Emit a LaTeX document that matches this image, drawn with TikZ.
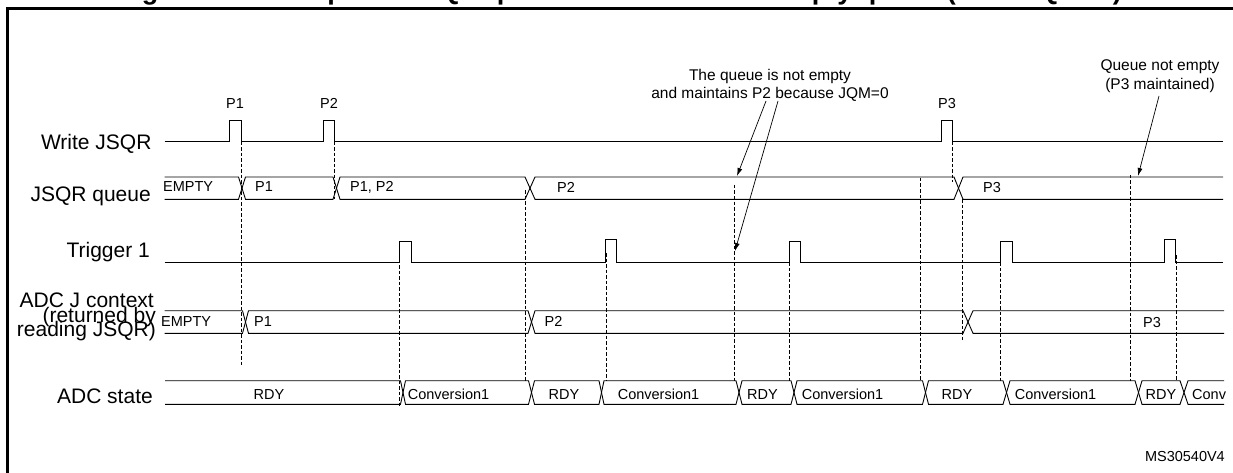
\documentclass[tikz,border=0pt]{standalone}
\usepackage{fontspec}
\setmainfont{Liberation Sans}
\usetikzlibrary{arrows.meta}
\tikzset{
  sig/.style={line width=0.9pt, line join=miter},
  vdash/.style={line width=0.7pt, dash pattern=on 3.5pt off 2pt},
  frame/.style={line width=2.6pt},
  lab/.style={font=\fontsize{21}{21}\selectfont, inner sep=0pt, anchor=base east},
  small/.style={font=\fontsize{14.5}{14.5}\selectfont, inner sep=0pt, anchor=base west},
  smallc/.style={font=\fontsize{14.5}{14.5}\selectfont, inner sep=0pt, anchor=base},
  note/.style={inner sep=0pt, align=center, anchor=north},
  arr/.style={line width=0.7pt, -{Latex[length=8pt,width=5pt]}},
}
\begin{document}
\begin{tikzpicture}[x=1pt,y=-1pt]
\useasboundingbox (0,0) rectangle (1233,473);

% clipped title and frame
\node[inner sep=0pt, anchor=base east, font=\bfseries\fontsize{27}{27}\selectfont] (title) at (1122,0)
  {Figure 71. Example of JSQR queue of context with empty queue (case JQM=0)};
\draw[frame] (7.3,480) -- (7.3,8.3) -- (1240,8.3);

% signal labels
\node[lab] (lw) at (151.7,150) {Write JSQR};
\node[lab] (lq) at (151,201) {JSQR queue};
\node[lab] (lt) at (150,257) {Trigger 1};
\node[lab] (lj1) at (154,307.5) {ADC J context};
\node[lab] (lj2) at (156,322) {(returned by};
\node[lab] (lj3) at (156,336.5) {reading JSQR)};
\node[lab] (ls) at (153,403) {ADC state};

% Write JSQR
\draw[sig] (164.5,141.7) -- (229,141.7) -- (229,120) -- (241,120) -- (241,141.7)
  -- (323,141.7) -- (323,120) -- (334.5,120) -- (334.5,141.7)
  -- (941,141.7) -- (941,120) -- (952.5,120) -- (952.5,141.7) -- (1223,141.7);
\node[smallc] (p1) at (235,108.3) {P1};
\node[smallc] (p2) at (329,108.3) {P2};
\node[smallc] (p3) at (947,108.3) {P3};

% JSQR queue bus
\draw[sig] (164.5,177) -- (238.5,177) -- (245.5,199.3) -- (333,199.3) -- (340,177)
  -- (525,177) -- (535,199.3) -- (954,199.3) -- (963,177) -- (1223,177);
\draw[sig] (164.5,199.3) -- (238.5,199.3) -- (245.5,177) -- (333,177) -- (340,199.3)
  -- (525,199.3) -- (535,177) -- (954,177) -- (963,199.3) -- (1223,199.3);
\node[small] (q0) at (163,191) {EMPTY};
\node[small] (q1) at (255,191) {P1};
\node[small] (q2) at (350,191) {P1, P2};
\node[small] (q3) at (557,193) {P2};
\node[small] (q4) at (983,193) {P3};

% Trigger 1
\draw[sig] (164.5,262.3) -- (399.5,262.3) -- (399.5,241.7) -- (411.7,241.7) -- (411.7,262.3)
  -- (605,262.3) -- (605,239.5) -- (616.7,239.5) -- (616.7,262.3)
  -- (789,262.3) -- (789,241.7) -- (800,241.7) -- (800,262.3)
  -- (1000,262.3) -- (1000,241.7) -- (1012,241.7) -- (1012,262.3)
  -- (1164,262.3) -- (1164,239.5) -- (1175.3,239.5) -- (1175.3,262.3) -- (1223,262.3);

% ADC J context bus
\draw[sig] (164.5,310.7) -- (242.5,310.7) -- (248.5,333.3) -- (528,333.3) -- (535,310.7)
  -- (963,310.7) -- (973,333.3) -- (1224,333.3);
\draw[sig] (164.5,333.3) -- (242.5,333.3) -- (248.5,310.7) -- (528,310.7) -- (535,333.3)
  -- (963,333.3) -- (973,310.7) -- (1224,310.7);
\node[small] (j0) at (161,326) {EMPTY};
\node[small] (j1) at (254,326) {P1};
\node[small] (j2) at (544.5,326) {P2};
\node[small] (j3) at (1143,327) {P3};

% ADC state bus
\draw[sig] (165,380.7) -- (400.5,380.7) -- (405.5,404.3) -- (528.5,404.3) -- (534.5,380.7)
  -- (599,380.7) -- (604,404.3) -- (736,404.3) -- (742,380.7)
  -- (791,380.7) -- (797,404.3) -- (922.5,404.3) -- (928.5,380.7)
  -- (1003,380.7) -- (1010,404.3) -- (1135,404.3) -- (1142,380.7)
  -- (1180,380.7) -- (1188,404.3) -- (1224,404.3);
\draw[sig] (165,404.3) -- (400.5,404.3) -- (405.5,380.7) -- (528.5,380.7) -- (534.5,404.3)
  -- (599,404.3) -- (604,380.7) -- (736,380.7) -- (742,404.3)
  -- (791,404.3) -- (797,380.7) -- (922.5,380.7) -- (928.5,404.3)
  -- (1003,404.3) -- (1010,380.7) -- (1135,380.7) -- (1142,404.3)
  -- (1180,404.3) -- (1188,380.7) -- (1224,380.7);
\node[smallc] (s0) at (269,399) {RDY};
\node[smallc] (s1) at (448.5,399) {Conversion1};
\node[smallc] (s2) at (564,399) {RDY};
\node[smallc] (s3) at (658.5,399) {Conversion1};
\node[smallc] (s4) at (762.5,399) {RDY};
\node[smallc] (s5) at (842.5,399) {Conversion1};
\node[smallc] (s6) at (957,399) {RDY};
\node[smallc] (s7) at (1055.5,399) {Conversion1};
\node[smallc] (s8) at (1161,399) {RDY};
\node[small] (s9) at (1192,399) {Conv};

% dashed guide lines
\draw[vdash] (241,141.7) -- (241,365);
\draw[vdash] (334.5,141.7) -- (334.5,199.3);
\draw[vdash] (399.5,243) -- (399.5,406);
\draw[vdash] (525,190) -- (525,381);
\draw[vdash] (606.5,253) -- (606.5,381);
\draw[vdash] (734.5,185) -- (734.5,381);
\draw[vdash] (789.5,262) -- (789.5,381);
\draw[vdash] (920.5,178) -- (920.5,381);
\draw[vdash] (952.5,141.7) -- (952.5,182);
\draw[vdash] (962.5,199) -- (962.5,341.7);
\draw[vdash] (1000,262) -- (1000,381);
\draw[vdash] (1130,175) -- (1130,381);
\draw[vdash] (1176,255) -- (1176,381);

% annotations
\node[note, font=\fontsize{15.5}{17.7}\selectfont] (n1) at (770,69)
  {The queue is not empty\\and maintains P2 because JQM=0};
\node[note, font=\fontsize{15.5}{19}\selectfont] (n2) at (1160,59)
  {Queue not empty\\(P3 maintained)};
\coordinate (a1s) at (766,101);
\coordinate (a1e) at (737,176);
\coordinate (a2s) at (778,101);
\coordinate (a2e) at (735,251);
\coordinate (a3s) at (1159,96);
\coordinate (a3e) at (1138,176);
\draw[arr] (a1s) -- (a1e);
\draw[arr] (a2s) -- (a2e);
\draw[arr] (a3s) -- (a3e);

\node[font=\fontsize{14.5}{14.5}\selectfont, inner sep=0pt, anchor=base east] (ms) at (1225,461) {MS30540V4};
\end{tikzpicture}
\end{document}
